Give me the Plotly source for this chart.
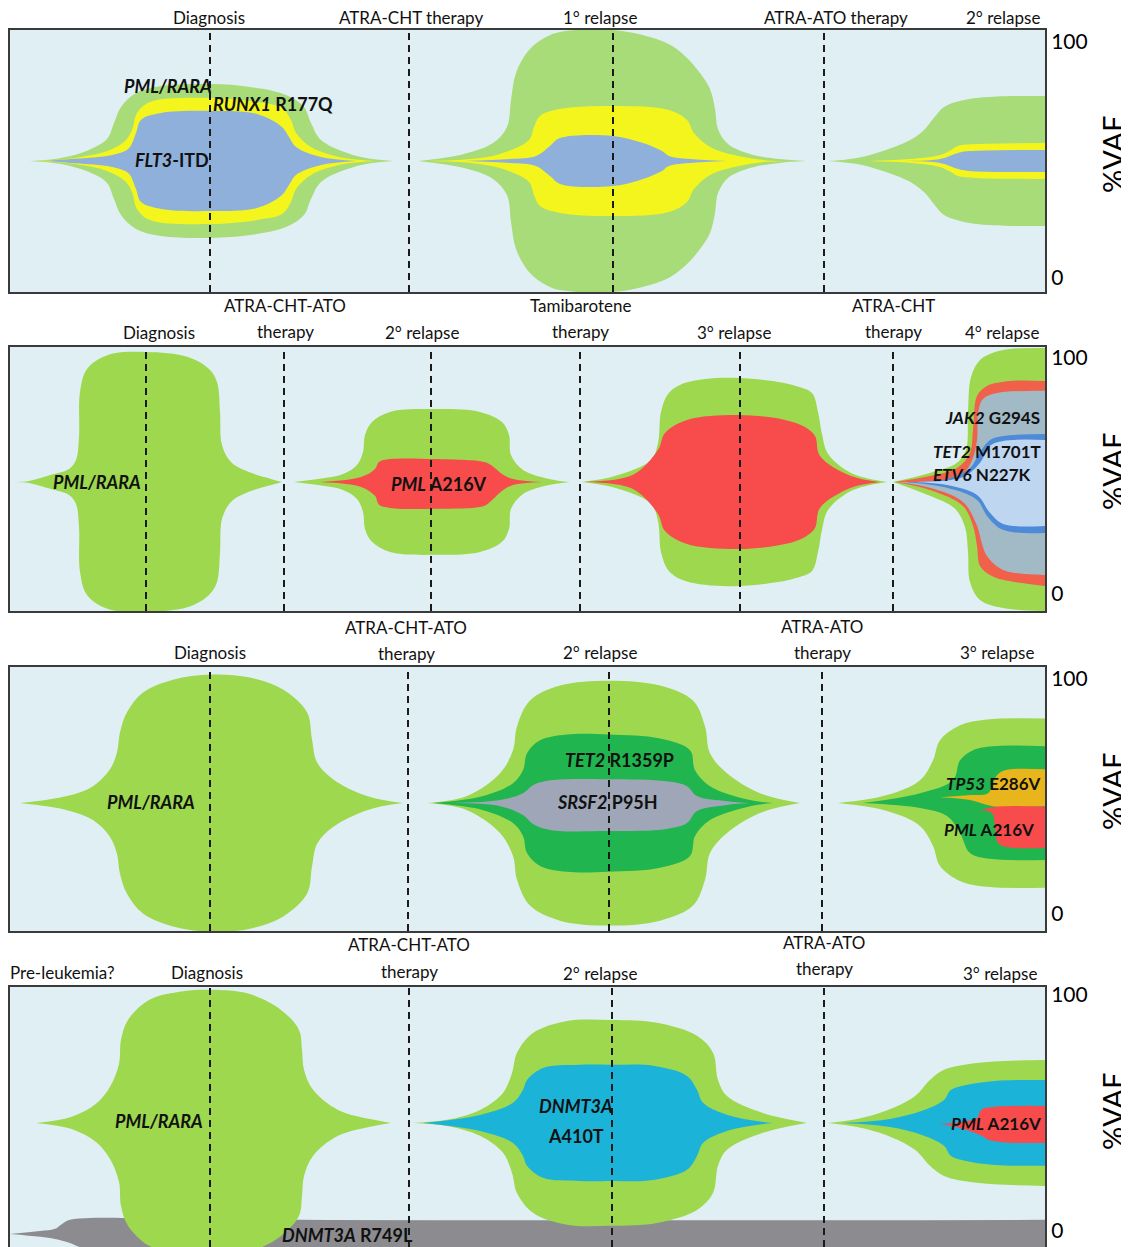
import plotly.graph_objects as go

# page offset compensation (the page body adds a margin around the figure)
OX, OY = 8, 8
W, H = 1129 - OX, 1247 - OY

# ---------------- event times (arbitrary time units along disease course) ----------------
P1_EVENT_TIMES = [210, 409, 613, 824]
P2_EVENT_TIMES = [146, 284, 431, 580, 740, 893]
P3_EVENT_TIMES = [210, 408, 609, 822]
P4_EVENT_TIMES = [210, 409, 612, 824]

# centre line (%VAF) of each fish panel
CENTERS = [49.6, 47.5, 47.2, 45.8]

# ---------------- Panel 1 clones (half-widths, %VAF) ----------------
P1_PMLRARA_DX_T = [30, 61, 89, 107, 114, 121, 136, 161, 211, 250, 286, 304, 311, 321, 357, 393]
P1_PMLRARA_DX_W = [0, 1.3, 4.7, 9.3, 16.1, 22.9, 28.8, 31.8, 32.6, 31.4, 28.0, 22.9, 16.1, 8.9, 2.1, 0]
P1_RUNX1_DX_T = [40, 75, 107, 125, 132, 137, 150, 211, 257, 282, 291, 296, 311, 339, 375]
P1_RUNX1_DX_W = [0, 1.3, 4.2, 8.5, 13.1, 20.3, 25.0, 26.7, 25.0, 22.5, 17.4, 11.9, 5.9, 1.7, 0]
P1_FLT3_DX_T = [45, 71, 107, 125, 130, 136, 141, 161, 211, 257, 282, 289, 296, 321, 357]
P1_FLT3_DX_W = [0, 0.8, 2.1, 4.2, 5.9, 11.9, 17.4, 20.3, 21.2, 19.9, 14.4, 10.2, 5.9, 1.7, 0]

P1_PMLRARA_R1_T = [418, 464, 493, 507, 511, 516, 529, 546, 560, 613, 650, 670, 686, 700, 710, 715, 718, 728, 750, 780, 806]
P1_PMLRARA_R1_W = [0, 3.0, 7.6, 14.4, 25.8, 37.3, 47.0, 52.5, 54.7, 55.5, 52.5, 49.2, 44.1, 37.3, 30.5, 22.0, 13.6, 7.2, 3.0, 0.8, 0]
P1_RUNX1_R1_T = [429, 470, 500, 529, 534, 540, 560, 613, 669, 687, 694, 712, 756, 785]
P1_RUNX1_R1_W = [0, 0.8, 3.0, 8.9, 14.4, 19.1, 22.0, 23.3, 21.6, 17.4, 11.9, 5.5, 0.8, 0]
P1_FLT3_R1_T = [464, 510, 536, 550, 560, 613, 643, 662, 669, 705, 727]
P1_FLT3_R1_W = [0, 0.8, 2.1, 6.4, 9.7, 10.6, 7.6, 4.2, 2.1, 0.4, 0]

P1_PMLRARA_R2_T = [828, 857, 886, 912, 925, 933, 944, 960, 977, 1010, 1046]
P1_PMLRARA_R2_W = [0, 1.3, 4.7, 9.3, 13.6, 17.8, 22.9, 25.4, 26.7, 27.5, 27.5]
P1_RUNX1_R2_T = [868, 910, 940, 951, 958, 976, 1046]
P1_RUNX1_R2_W = [0, 0.8, 2.5, 4.7, 6.4, 7.2, 7.6]
P1_FLT3_R2_T = [900, 940, 958, 969, 1046]
P1_FLT3_R2_W = [0, 0.8, 3.4, 4.2, 4.7]

# ---------------- Panel 2 clones ----------------
P2_PMLRARA_DX_T = [14, 29, 51, 69, 76, 79, 80, 87, 108, 146, 188, 209, 217, 220, 222, 231, 249, 271, 282]
P2_PMLRARA_DX_W = [0, 0.4, 3.0, 5.5, 9.3, 19.1, 38.1, 47.9, 53.8, 55.1, 53.0, 47.9, 42.4, 29.7, 15.7, 8.5, 4.2, 1.3, 0]

P2_PMLRARA_R2_T = [294, 325, 343, 357, 363, 365, 372, 390, 435, 480, 502, 509, 511, 523, 549, 570]
P2_PMLRARA_R2_W = [0, 1.7, 3.4, 7.2, 12.7, 19.9, 25.4, 29.7, 30.9, 29.7, 25.4, 19.9, 11.4, 5.1, 1.3, 0]
P2_PML_R2_T = [320, 361, 375, 379, 390, 435, 484, 491, 502, 513, 542]
P2_PML_R2_UP = [0, 2.1, 5.5, 8.5, 9.7, 9.7, 8.5, 7.2, 3.4, 1.3, 0]
P2_PML_R2_DN = [0, -2.1, -5.9, -9.7, -11.0, -11.4, -10.2, -8.1, -3.8, -1.3, 0]

P2_PMLRARA_R3_T = [582, 615, 651, 658, 661, 668, 680, 705, 739, 778, 796, 812, 818, 822, 828, 851, 887]
P2_PMLRARA_R3_W = [0, 2.5, 9.3, 16.5, 29.7, 37.3, 41.1, 43.6, 44.1, 42.4, 40.7, 37.7, 29.7, 20.3, 11.9, 3.8, 0]
P2_PML_R3_T = [585, 633, 658, 665, 687, 739, 785, 805, 815, 820, 851, 880]
P2_PML_R3_W = [0, 3.0, 13.6, 20.8, 26.3, 28.4, 26.3, 23.3, 19.5, 11.0, 2.5, 0]

P2_PMLRARA_R4_TT = [893, 930, 957, 966, 968, 971, 980, 995, 1010, 1046]
P2_PMLRARA_R4_UP = [0, 3.8, 8.1, 13.6, 29.7, 44.5, 51.7, 55.1, 56.4, 56.8]
P2_PMLRARA_R4_TB = [893, 930, 955, 965, 968, 970, 980, 1003, 1046]
P2_PMLRARA_R4_DN = [0, -5.9, -11.4, -19.1, -29.7, -42.4, -50.0, -53.4, -54.7]
P2_PML_R4_TT = [895, 930, 957, 970, 973, 977, 987, 1010, 1046]
P2_PML_R4_UP = [0, 2.5, 5.9, 12.3, 22.0, 36.4, 40.7, 42.8, 42.8]
P2_PML_R4_TB = [895, 930, 963, 973, 977, 980, 990, 1003, 1046]
P2_PML_R4_DN = [0, -3.4, -10.2, -18.6, -27.1, -35.6, -39.4, -41.5, -44.1]
P2_JAK2_R4_TT = [897, 947, 963, 972, 977, 978, 983, 997, 1046]
P2_JAK2_R4_UP = [0, 0.8, 3.4, 9.3, 17.8, 29.2, 35.2, 37.7, 38.6]
P2_JAK2_R4_TB = [897, 930, 963, 977, 982, 987, 1003, 1046]
P2_JAK2_R4_DN = [0, -2.5, -8.5, -18.6, -26.3, -31.4, -37.3, -39.4]
P2_TET2_R4_TT = [905, 947, 970, 980, 990, 1003, 1046]
P2_TET2_R4_UP = [0, 1.3, 5.9, 12.7, 17.8, 19.5, 20.3]
P2_TET2_R4_TB = [905, 947, 977, 987, 1003, 1046]
P2_TET2_R4_DN = [0, -2.5, -7.6, -14.4, -20.3, -21.6]
P2_ETV6_R4_TT = [915, 963, 980, 990, 1003, 1046]
P2_ETV6_R4_UP = [0, 2.1, 8.1, 15.3, 17.4, 17.8]
P2_ETV6_R4_TB = [915, 947, 977, 990, 1003, 1046]
P2_ETV6_R4_DN = [0, -1.3, -5.5, -13.1, -17.8, -18.6]

# ---------------- Panel 3 clones ----------------
P3_PMLRARA_DX_T = [20, 67, 93, 110, 117, 120, 127, 143, 173, 211, 250, 283, 307, 312, 317, 333, 367, 403]
P3_PMLRARA_DX_W = [0, 3.0, 7.2, 14.4, 21.6, 30.1, 38.6, 47.0, 52.5, 54.7, 53.4, 48.3, 38.6, 27.1, 17.4, 10.2, 3.0, 0]

P3_PMLRARA_R2_T = [427, 467, 500, 513, 517, 530, 560, 609, 660, 693, 705, 710, 727, 760, 800]
P3_PMLRARA_R2_W = [0, 3.0, 12.7, 22.5, 32.6, 43.6, 50.0, 52.1, 50.0, 43.6, 32.6, 21.2, 12.7, 4.2, 0]
P3_TET2_R2_T = [433, 483, 513, 523, 527, 540, 567, 609, 660, 690, 695, 710, 750, 773]
P3_TET2_R2_W = [0, 3.0, 8.5, 14.0, 21.2, 26.7, 29.2, 29.2, 27.5, 22.5, 14.0, 7.2, 1.3, 0]
P3_SRSF2_R2_T = [450, 500, 523, 533, 550, 609, 667, 687, 697, 727, 750]
P3_SRSF2_R2_UP = [0, 1.3, 4.2, 7.6, 9.7, 10.2, 9.3, 7.2, 3.0, 0.8, 0]
P3_SRSF2_R2_DN = [0, -1.3, -5.1, -8.9, -11.4, -11.9, -11.0, -8.5, -3.4, -0.8, 0]

P3_PMLRARA_R3_T = [838, 887, 920, 933, 940, 960, 987, 1046]
P3_PMLRARA_R3_W = [0, 3.4, 9.7, 18.2, 26.7, 33.1, 35.6, 36.0]
P3_TET2_R3_TT = [863, 920, 953, 960, 973, 993, 1046]
P3_TET2_R3_UP = [0, 4.2, 9.7, 18.2, 22.5, 24.2, 24.2]
P3_TET2_R3_TB = [863, 920, 947, 960, 970, 990, 1046]
P3_TET2_R3_DN = [0, -2.1, -5.5, -12.7, -21.2, -23.7, -24.2]
P3_TP53_R3_TT = [940, 970, 988, 993, 997, 1005, 1046]
P3_TP53_R3_UP = [2.5, 3.4, 4.2, 8.5, 11.9, 14.0, 14.4]
P3_TP53_R3_TB = [940, 970, 993, 1046]
P3_TP53_R3_DN = [2.5, 1.3, -1.3, -1.3]
P3_PML_R3_TT = [980, 996, 1046]
P3_PML_R3_UP = [-3.0, -1.5, -1.5]
P3_PML_R3_TB = [980, 992, 995, 998, 1005, 1046]
P3_PML_R3_DN = [-3.0, -4.2, -10.6, -16.9, -18.6, -19.1]

# ---------------- Panel 4 clones ----------------
# DNMT3A R749L band (absolute %VAF)
P4_DNMT3A_R749L_TT = [10, 40, 55, 62, 70, 90, 130, 300, 1046]
P4_DNMT3A_R749L_UP = [-1.3, 0.0, 0.9, 3.0, 4.7, 5.5, 5.5, 4.7, 4.7]
P4_DNMT3A_R749L_TB = [10, 40, 55, 70, 90, 1046]
P4_DNMT3A_R749L_DN = [-1.3, -2.5, -3.4, -5.1, -8.0, -8.0]

P4_PMLRARA_DX_T = [36, 71, 96, 110, 119, 121, 128, 149, 178, 210, 249, 281, 299, 302, 304, 313, 338, 374, 391]
P4_PMLRARA_DX_W = [0, 2.5, 8.1, 15.3, 25.0, 35.2, 43.6, 52.1, 55.5, 56.4, 54.7, 47.9, 39.4, 30.9, 22.5, 14.0, 5.5, 1.3, 0]

P4_PMLRARA_R2_T = [413, 447, 480, 503, 512, 517, 533, 567, 612, 657, 697, 713, 718, 727, 763, 807]
P4_PMLRARA_R2_W = [0, 1.3, 5.5, 12.7, 21.2, 29.7, 38.1, 43.2, 43.6, 42.4, 36.9, 29.7, 18.2, 11.4, 4.2, 0]
P4_DNMT3A_A410T_R2_T = [423, 480, 513, 523, 527, 543, 580, 612, 653, 687, 697, 703, 730, 773]
P4_DNMT3A_A410T_R2_W = [0, 3.4, 8.5, 14.0, 18.2, 23.3, 24.6, 24.6, 24.2, 19.9, 14.0, 8.5, 3.0, 0]

P4_PMLRARA_R3_T = [828, 857, 886, 915, 930, 944, 977, 1046]
P4_PMLRARA_R3_W = [0, 1.7, 5.1, 11.4, 18.2, 22.5, 25.4, 26.7]
P4_DNMT3A_A410T_R3_T = [843, 890, 922, 944, 951, 966, 995, 1046]
P4_DNMT3A_A410T_R3_W = [0, 1.7, 5.1, 9.7, 14.0, 16.1, 17.8, 18.2]
P4_PML_R3_TT = [940, 977, 981, 995, 1046]
P4_PML_R3_UP = [-0.4, 2.1, 5.5, 6.8, 7.2]
P4_PML_R3_TB = [940, 959, 980, 992, 1046]
P4_PML_R3_DN = [-0.4, -2.1, -5.1, -7.6, -8.5]

# ---------------- colours ----------------
BG = "#dfeff4"
GREEN_A = "#a8dc78"
GREEN = "#9dd84f"
YELLOW = "#f5f51e"
FLT3_BLUE = "#8fb0da"
RED = "#f84b4b"
RED_B = "#f0604a"
JAK2_C = "#a2b9c6"
TET2_BLUE = "#4d8bd8"
ETV6_C = "#bed6f0"
DKGREEN = "#20b54e"
SRSF2_C = "#9ea6b8"
TP53_C = "#e8b51c"
DNMT3A_C = "#1cb3d8"
GRAY = "#8c8c90"


def sym(t, w):
    return (t, w, t, [-v for v in w])


# (panel, colour, x_top, top, x_bottom, bottom, reference)
CLONES = [
    (1, GREEN_A, *sym(P1_PMLRARA_DX_T, P1_PMLRARA_DX_W), "c"),
    (1, YELLOW, *sym(P1_RUNX1_DX_T, P1_RUNX1_DX_W), "c"),
    (1, FLT3_BLUE, *sym(P1_FLT3_DX_T, P1_FLT3_DX_W), "c"),
    (1, GREEN_A, *sym(P1_PMLRARA_R1_T, P1_PMLRARA_R1_W), "c"),
    (1, YELLOW, *sym(P1_RUNX1_R1_T, P1_RUNX1_R1_W), "c"),
    (1, FLT3_BLUE, *sym(P1_FLT3_R1_T, P1_FLT3_R1_W), "c"),
    (1, GREEN_A, *sym(P1_PMLRARA_R2_T, P1_PMLRARA_R2_W), "c"),
    (1, YELLOW, *sym(P1_RUNX1_R2_T, P1_RUNX1_R2_W), "c"),
    (1, FLT3_BLUE, *sym(P1_FLT3_R2_T, P1_FLT3_R2_W), "c"),

    (2, GREEN, *sym(P2_PMLRARA_DX_T, P2_PMLRARA_DX_W), "c"),
    (2, GREEN, *sym(P2_PMLRARA_R2_T, P2_PMLRARA_R2_W), "c"),
    (2, RED, P2_PML_R2_T, P2_PML_R2_UP, P2_PML_R2_T, P2_PML_R2_DN, "c"),
    (2, GREEN, *sym(P2_PMLRARA_R3_T, P2_PMLRARA_R3_W), "c"),
    (2, RED, *sym(P2_PML_R3_T, P2_PML_R3_W), "c"),
    (2, GREEN, P2_PMLRARA_R4_TT, P2_PMLRARA_R4_UP, P2_PMLRARA_R4_TB, P2_PMLRARA_R4_DN, "c"),
    (2, RED_B, P2_PML_R4_TT, P2_PML_R4_UP, P2_PML_R4_TB, P2_PML_R4_DN, "c"),
    (2, JAK2_C, P2_JAK2_R4_TT, P2_JAK2_R4_UP, P2_JAK2_R4_TB, P2_JAK2_R4_DN, "c"),
    (2, TET2_BLUE, P2_TET2_R4_TT, P2_TET2_R4_UP, P2_TET2_R4_TB, P2_TET2_R4_DN, "c"),
    (2, ETV6_C, P2_ETV6_R4_TT, P2_ETV6_R4_UP, P2_ETV6_R4_TB, P2_ETV6_R4_DN, "c"),

    (3, GREEN, *sym(P3_PMLRARA_DX_T, P3_PMLRARA_DX_W), "c"),
    (3, GREEN, *sym(P3_PMLRARA_R2_T, P3_PMLRARA_R2_W), "c"),
    (3, DKGREEN, *sym(P3_TET2_R2_T, P3_TET2_R2_W), "c"),
    (3, SRSF2_C, P3_SRSF2_R2_T, P3_SRSF2_R2_UP, P3_SRSF2_R2_T, P3_SRSF2_R2_DN, "c"),
    (3, GREEN, *sym(P3_PMLRARA_R3_T, P3_PMLRARA_R3_W), "c"),
    (3, DKGREEN, P3_TET2_R3_TT, P3_TET2_R3_UP, P3_TET2_R3_TB, P3_TET2_R3_DN, "c"),
    (3, TP53_C, P3_TP53_R3_TT, P3_TP53_R3_UP, P3_TP53_R3_TB, P3_TP53_R3_DN, "c"),
    (3, RED, P3_PML_R3_TT, P3_PML_R3_UP, P3_PML_R3_TB, P3_PML_R3_DN, "c"),

    (4, GRAY, P4_DNMT3A_R749L_TT, P4_DNMT3A_R749L_UP, P4_DNMT3A_R749L_TB, P4_DNMT3A_R749L_DN, "abs"),
    (4, GREEN, *sym(P4_PMLRARA_DX_T, P4_PMLRARA_DX_W), "c"),
    (4, GREEN, *sym(P4_PMLRARA_R2_T, P4_PMLRARA_R2_W), "c"),
    (4, DNMT3A_C, *sym(P4_DNMT3A_A410T_R2_T, P4_DNMT3A_A410T_R2_W), "c"),
    (4, GREEN, *sym(P4_PMLRARA_R3_T, P4_PMLRARA_R3_W), "c"),
    (4, DNMT3A_C, *sym(P4_DNMT3A_A410T_R3_T, P4_DNMT3A_A410T_R3_W), "c"),
    (4, RED, P4_PML_R3_TT, P4_PML_R3_UP, P4_PML_R3_TB, P4_PML_R3_DN, "c"),
]

# ---------------- text ----------------
HEADERS = [
    (1, ["Diagnosis", "ATRA-CHT therapy", "1° relapse", "ATRA-ATO therapy", "2° relapse"]),
    (2, ["ATRA-CHT-ATO", "therapy", "Diagnosis", "2° relapse", "Tamibarotene", "therapy",
         "3° relapse", "ATRA-CHT", "therapy", "4° relapse"]),
    (3, ["Diagnosis", "ATRA-CHT-ATO", "therapy", "2° relapse", "ATRA-ATO", "therapy", "3° relapse"]),
    (4, ["Pre-leukemia?", "Diagnosis", "ATRA-CHT-ATO", "therapy", "2° relapse", "ATRA-ATO",
         "therapy", "3° relapse"]),
]
HEADER_POS = {
    1: [(209, 18), (411, 18), (600, 18), (836, 18), (1003, 18)],
    2: [(285, 305), (285, 331), (159, 332), (422, 332), (580, 305), (580, 331),
        (734, 332), (893, 305), (893, 331), (1002, 332)],
    3: [(210, 652), (406, 627), (406, 653), (600, 652), (822, 626), (822, 652), (997, 652)],
    4: [(62, 972), (207, 972), (409, 944), (409, 971), (600, 973), (824, 942), (824, 968), (1000, 973)],
}

CLONE_LABELS = [
    (1, "<i>PML/RARA</i>", 168, 81.4, "center"),
    (1, "<i>RUNX1</i> R177Q", 273, 73.7, "center"),
    (1, "<i>FLT3</i>-ITD", 172, 50.0, "center"),
    (2, "<i>PML/RARA</i>", 97, 47.5, "center"),
    (2, "<i>PML</i> A216V", 439, 46.7, "center"),
    (2, "<i>JAK2</i> G294S", 1042, 75.0, "right"),
    (2, "<i>TET2</i> M1701T", 1043, 60.2, "right"),
    (2, "<i>ETV6</i> N227K", 1033, 50.5, "right"),
    (3, "<i>PML/RARA</i>", 151, 47.5, "center"),
    (3, "<i>TET2</i> R1359P", 619, 65.7, "center"),
    (3, "<i>SRSF2</i> P95H", 607, 47.5, "center"),
    (3, "<i>TP53</i> E286V", 1043, 55.5, "right"),
    (3, "<i>PML</i> A216V", 1036, 36.0, "right"),
    (4, "<i>PML/RARA</i>", 159, 46.6, "center"),
    (4, "<i>DNMT3A</i>", 576, 53.0, "center"),
    (4, "A410T", 576, 40.3, "center"),
    (4, "<i>PML</i> A216V", 1043, 45.4, "right"),
    (4, "<i>DNMT3A</i> R749L", 347, -1.6, "center"),
]

EVENTS = {1: P1_EVENT_TIMES, 2: P2_EVENT_TIMES, 3: P3_EVENT_TIMES, 4: P4_EVENT_TIMES}

# ---------------- layout geometry (reference pixel positions) ----------------
PANEL_PX = {1: (30, 292), 2: (347, 611), 3: (667, 931), 4: (987, 1247)}
YRANGES = {1: [-5.9, 105.1], 2: [-7.2, 104.7], 3: [-7.2, 105.1], 4: [-6.8, 103.4]}
VAF_TITLE_Y = {1: 155, 2: 472, 3: 792, 4: 1112}
XR = [10, 1045]
PLOT_L, PLOT_R = 10, 1045
FONT = "Lato, 'Open Sans', sans-serif"


def py(px):
    return 1 - (px - OY) / H


fig = go.Figure()


def suffix(p):
    return "" if p == 1 else str(p)


for panel, color, xt, top, xb, bot, ref in CLONES:
    base = CENTERS[panel - 1] if ref == "c" else 0.0
    s = suffix(panel)
    fig.add_trace(go.Scatter(
        x=xb, y=[base + v for v in bot], mode="lines",
        line=dict(width=0, shape="spline", smoothing=1.0, color=color),
        xaxis="x" + s, yaxis="y" + s, hoverinfo="skip", showlegend=False))
    fig.add_trace(go.Scatter(
        x=xt, y=[base + v for v in top], mode="lines", fill="tonexty", fillcolor=color,
        line=dict(width=0, shape="spline", smoothing=1.0, color=color),
        xaxis="x" + s, yaxis="y" + s, hoverinfo="skip", showlegend=False))

layout = dict(
    width=W, height=H,
    margin=dict(l=PLOT_L - OX, r=W - (PLOT_R - OX), t=0, b=0, autoexpand=False),
    paper_bgcolor="white", plot_bgcolor=BG, showlegend=False,
    font=dict(family=FONT, color="black"),
)
shapes = []
annotations = []
for p in range(1, 5):
    s = suffix(p)
    top_px, bot_px = PANEL_PX[p]
    layout["xaxis" + s] = dict(domain=[0, 1], range=XR, anchor="y" + s, showticklabels=False,
                               showgrid=False, zeroline=False, showline=True, mirror=True,
                               linecolor="#3a3a3a", linewidth=2, ticks="")
    layout["yaxis" + s] = dict(domain=[max(0, py(bot_px)), py(top_px)], range=YRANGES[p], anchor="x" + s,
                               side="right", tickvals=[0, 100], ticktext=["0", "100"],
                               tickfont=dict(size=21, family=FONT, color="black"),
                               showgrid=False, zeroline=False, showline=True, mirror=True,
                               linecolor="#3a3a3a", linewidth=2, ticks="")
    for t in EVENTS[p]:
        shapes.append(dict(type="line", xref="x" + s, yref="y" + s + " domain", x0=t, x1=t,
                           y0=0, y1=1, layer="above",
                           line=dict(color="#1a1a1a", width=2, dash="7px,5px")))
    annotations.append(dict(xref="paper", yref="paper",
                            x=(1112 - PLOT_L) / (PLOT_R - PLOT_L), y=py(VAF_TITLE_Y[p]),
                            text="%VAF", textangle=-90, showarrow=False,
                            font=dict(size=29, family=FONT, color="black"),
                            xanchor="center", yanchor="middle"))

for p, texts in HEADERS:
    for txt, (xp, ypx) in zip(texts, HEADER_POS[p]):
        annotations.append(dict(xref="x", yref="paper", x=xp, y=py(ypx), text=txt,
                                showarrow=False, font=dict(size=17, family=FONT, color="#111"),
                                xanchor="center", yanchor="middle"))

for p, txt, xv, yv, anc in CLONE_LABELS:
    s = suffix(p)
    size = 17 if anc == "right" else 18
    annotations.append(dict(xref="x" + s, yref="y" + s, x=xv, y=yv, text="<b>" + txt + "</b>",
                            showarrow=False, font=dict(size=size, family=FONT, color="#111"),
                            xanchor=anc, yanchor="middle"))

layout["shapes"] = shapes
layout["annotations"] = annotations
fig.update_layout(**layout)
fig.write_html("out.html")
